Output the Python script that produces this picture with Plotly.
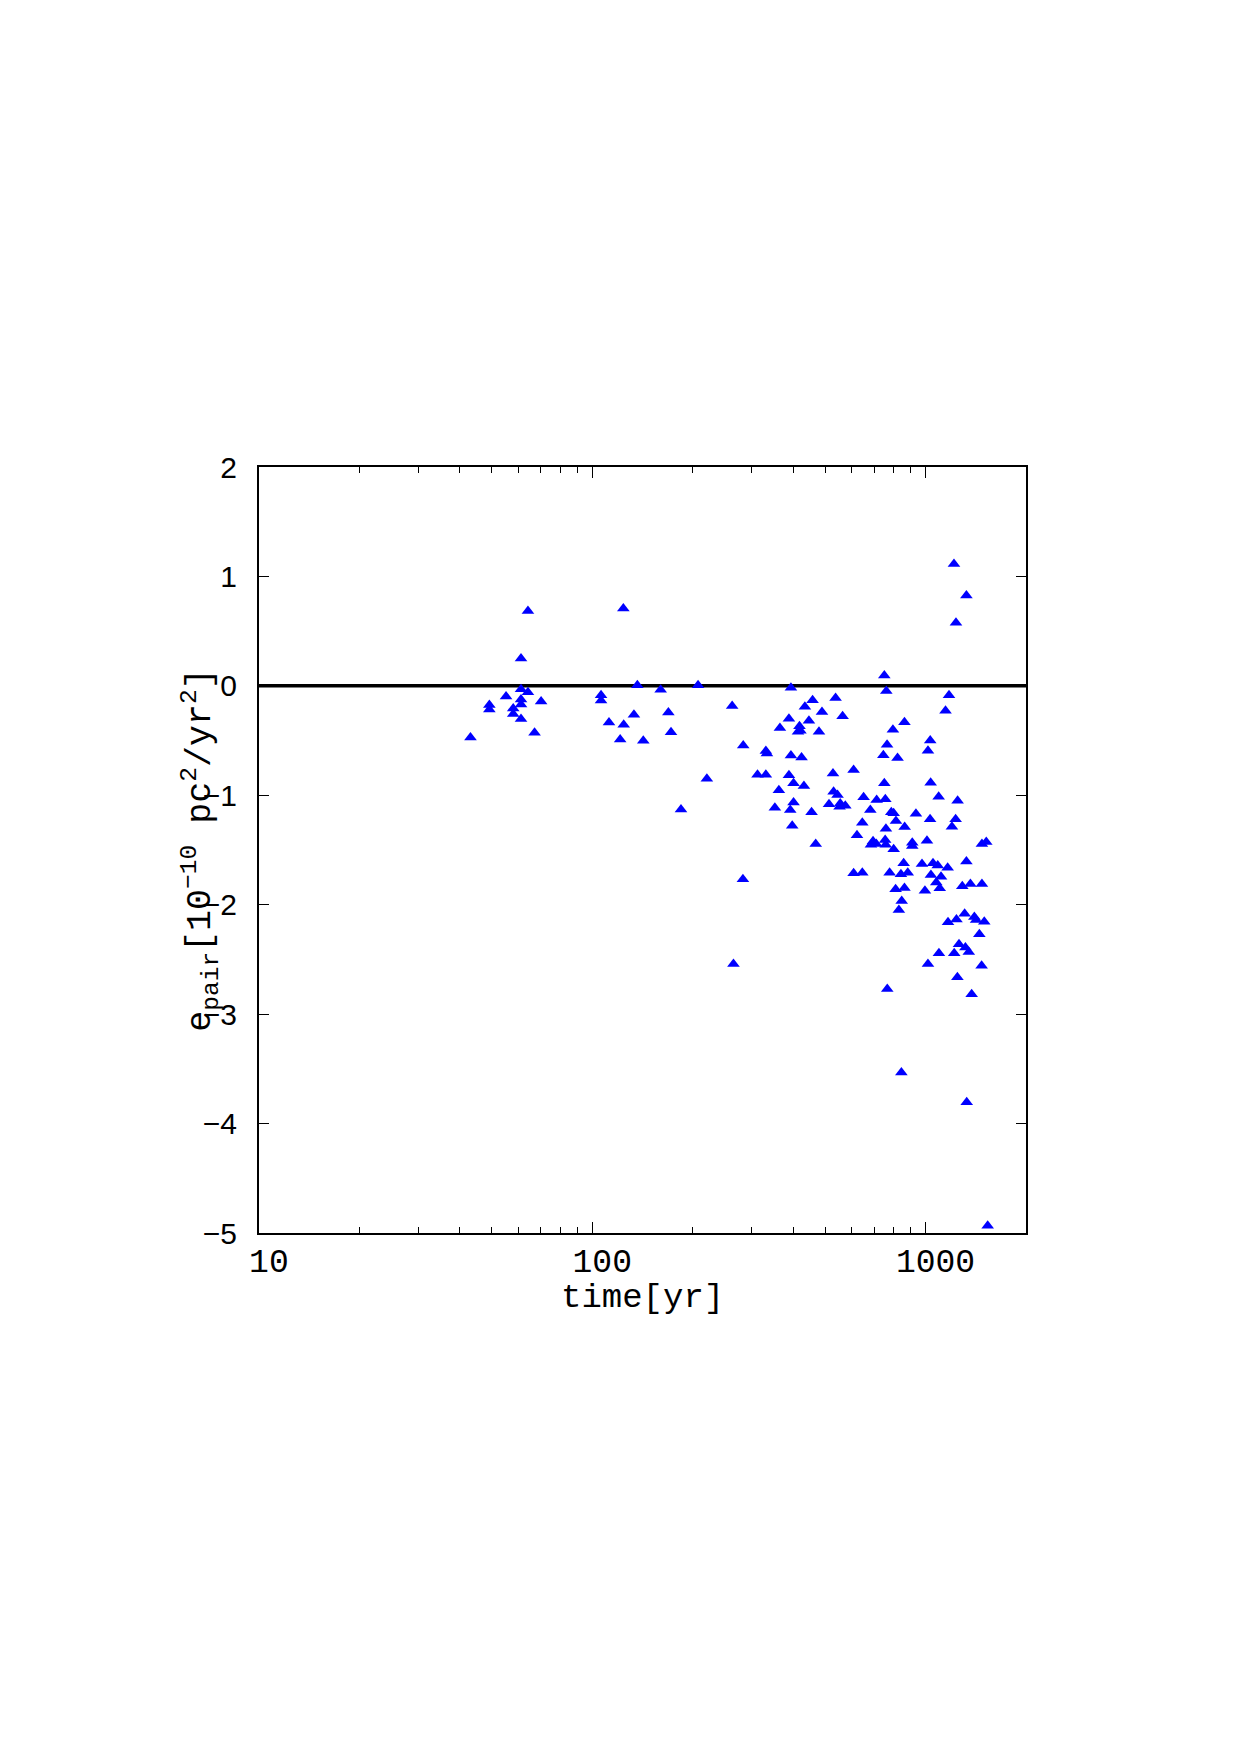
import plotly.graph_objects as go

time_yr = [
    43.1, 49.1, 49.1, 55.1, 57.9, 57.9, 61.1, 61.1, 61.1, 61.1, 61.1, 64.1, 64.1, 67.1, 70.2,
    106.2, 106.2, 112.2, 121.2, 123.9, 124.2, 133.3, 136.5, 142.2, 160.3, 169.1, 172.2, 184.5,
    207.6, 220.6, 262.7, 265.1, 283, 283.6, 313, 331.6, 334, 331.6, 352.9, 362.8, 365.4, 388.9,
    394.3, 394.3, 388.9, 392.4, 397.8, 401.5, 401.5, 418.3, 421, 414, 424.3, 431.3, 434.2, 446.5,
    454.7, 457.9, 467.9, 478.6, 488.6, 512.9, 527.2, 529.4, 536.7, 544, 551.7, 554.3, 563.4, 574,
    607.9, 608, 622.3, 645.6, 645.6, 651.3, 682.3, 685.3, 695.3, 711.2, 712.8, 746.5, 751.6, 751.6,
    755.9, 756.8, 759, 760, 762, 766, 767, 779.6, 788.6, 797.6, 801.7, 801.7, 812.6, 814.5, 823.6,
    831.1, 843, 845.6, 847.5, 859, 863.7, 863.7, 865, 883.6, 911.6, 911.6, 935, 975, 995, 1009,
    1016, 1016, 1031, 1032, 1035, 1037, 1052, 1076, 1087, 1094, 1096, 1102, 1112, 1147, 1164,
    1167, 1175, 1199, 1216, 1218, 1230, 1233, 1237, 1245, 1247, 1259, 1288, 1309, 1316, 1325,
    1325, 1328, 1347, 1362, 1374, 1400, 1417, 1449, 1472, 1475, 1475, 1499, 1520, 1535,
]
e_pair = [
    -0.471, -0.176, -0.216, -0.097, -0.206, -0.258, 0.25, -0.03, -0.124, -0.17, -0.304, 0.685, -0.058, -0.429, -0.143,
    -0.085, -0.134, -0.334, -0.49, 0.707, -0.356, -0.265, 0.006, -0.502, -0.036, -0.243, -0.423, -1.129,
    0.006, -0.849, -0.185, -2.542, -1.768, -0.545, -0.813, -0.596, -0.618, -0.813, -1.114, -0.953, -0.384, -0.301,
    -0.018, -0.636, -0.816, -1.135, -1.279, -0.891, -1.065, -0.37, -0.41, -0.42, -0.654, -0.916, -0.192, -0.32,
    -1.156, -0.131, -1.446, -0.42, -0.24, -1.083, -0.8, -0.968, -0.112, -0.998, -1.105, -1.074, -0.277, -1.096,
    -0.77, -1.713, -1.366, -1.251, -1.708, -1.019, -1.135, -1.452, -1.421, -1.446, -1.044, -0.633, 0.095, -0.891,
    -1.409, -1.037, -1.452, -1.306, -0.046, -0.539, -2.77, -1.708, -1.156, -0.402, -1.165, -1.494, -1.859, -1.236, -0.66,
    -2.048, -1.721, -3.534, -1.966, -1.622, -0.332, -1.848, -1.29, -1.708, -1.434, -1.464, -1.169, -1.628, -1.872, -1.416,
    -0.594, -2.542, -1.22, -0.499, -0.886, -1.728, -1.622, -1.798, -1.641, -1.014, -2.444, -1.85, -1.744, -0.228, -1.662,
    -2.161, -0.085, -1.288, 1.114, -2.444, -1.22, 0.577, -2.134, -2.663, -1.05, -2.362, -1.832, -2.082, -2.392, 0.826,
    -1.604, -3.805, -2.432, -1.811, -2.818, -2.112, -2.14, -2.27, -2.557, -1.446, -1.811, -2.155, -1.427, -4.934,
]

x_major = [10, 100, 1000]
x_major_text = ["\u00a010", "\u00a0100", "\u00a01000"]
x_minor = [20, 30, 40, 50, 60, 70, 80, 90, 200, 300, 400, 500, 600, 700, 800, 900]
y_ticks = [-5, -4, -3, -2, -1, 0, 1, 2]
x_range = [10, 2000]
y_range = [-5, 2]
ref_line = [0, 0]

mono = "Liberation Mono"

fig = go.Figure()
fig.add_trace(go.Scatter(
    x=x_range, y=ref_line, mode="lines",
    line=dict(color="black", width=3.5), hoverinfo="skip", showlegend=False,
))
fig.add_trace(go.Scatter(
    x=time_yr, y=e_pair, mode="markers",
    marker=dict(symbol="triangle-up", size=11, color="#0000ff", line=dict(width=0)),
    showlegend=False,
))

fig.update_layout(
    width=1241, height=1754,
    margin=dict(l=259, r=215, t=467, b=521, pad=0),
    paper_bgcolor="white", plot_bgcolor="white",
    showlegend=False,
    xaxis=dict(
        type="log", range=[1, 3.30103],
        tickmode="array", tickvals=x_major, ticktext=x_major_text,
        ticks="inside", ticklen=11, tickwidth=1.2, tickcolor="black",
        minor=dict(tickmode="array", tickvals=x_minor, ticks="inside", ticklen=6, tickwidth=1, tickcolor="black", showgrid=False),
        showline=True, linecolor="black", linewidth=2, mirror="allticks",
        showgrid=False, zeroline=False,
        tickfont=dict(family=mono, size=33, color="black"),
        ticklabelstandoff=-3,
    ),
    yaxis=dict(
        range=y_range,
        tickmode="array", tickvals=y_ticks,
        ticks="inside", ticklen=10, tickwidth=1.2, tickcolor="black",
        showline=True, linecolor="black", linewidth=2, mirror="allticks",
        showgrid=False, zeroline=False,
        tickfont=dict(family="Liberation Sans", size=30, color="black"),
        ticklabelstandoff=14,
    ),
    annotations=[
        dict(
            text="time[yr]", xref="paper", yref="paper", x=0.5, y=-0.0844,
            xanchor="center", yanchor="middle", showarrow=False,
            font=dict(family=mono, size=34, color="black"),
        ),
        dict(
            text="e<sub>pair</sub>[10<sup>\u221210</sup> pc<sup>2</sup>/yr<sup>2</sup>]",
            xref="paper", yref="paper", x=-0.0773, y=0.5,
            xanchor="center", yanchor="middle", textangle=-90, showarrow=False,
            font=dict(family=mono, size=35, color="black"),
        ),
    ],
)

fig.write_html("out.html")
